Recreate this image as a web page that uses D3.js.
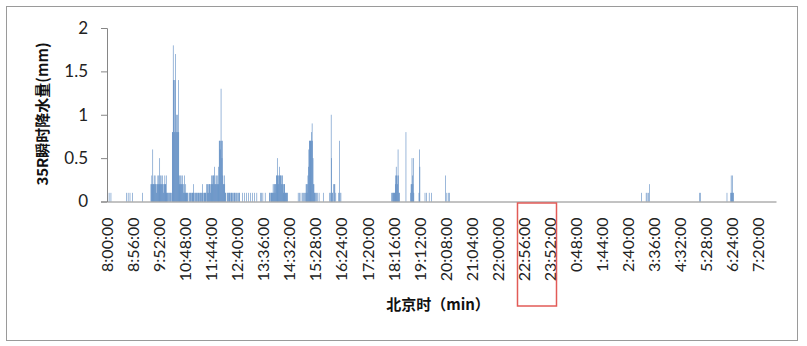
<!DOCTYPE html>
<html><head><meta charset="utf-8">
<script src="https://cdn.jsdelivr.net/npm/d3@7"></script>
<style>html,body{margin:0;padding:0;background:#fff;}svg{display:block;}</style>
</head><body>
<script>
// ---- data ----
const xTickLabels = ["8:00:00","8:56:00","9:52:00","10:48:00","11:44:00","12:40:00","13:36:00","14:32:00","15:28:00","16:24:00","17:20:00","18:16:00","19:12:00","20:08:00","21:04:00","22:00:00","22:56:00","23:52:00","0:48:00","1:44:00","2:40:00","3:36:00","4:32:00","5:28:00","6:24:00","7:20:00"];
const yTicks = [0, 0.5, 1, 1.5, 2];
const yTickLabels = ["0","0.5","1","1.5","2"];
// start time of each run of one-minute records
const segmentStarts = ["8:01","8:41","9:16","9:34","10:19","10:56","11:34","12:18","12:51","13:49","14:51","15:45","15:59","18:12","18:43","18:53","19:11","19:24","20:08","3:10","5:15","6:14"];
// rainfall (mm) per minute in each run
const segmentValues = [
  [0.1,0,0,0.1,0,0,0,0.1],
  [0.1,0,0,0,0.1,0,0,0,0.1,0,0,0,0,0.1],
  [0.1],
  [0.2,0.2,0.3,0.2,0.6,0.2,0.2,0.3,0.2,0.3, 0.2,0.2,0.1,0.2,0.2,0.3,0.2,0.3,0.2,0.5, 0.3,0.2,0.3,0.2,0.2,0.3,0.2,0.1,0.2,0.2, 0.3,0.2,0.2,0.3,0.1,0.1,0.1,0,0.1,0.1, 0.1,0,0.1,0.1],
  [0.1,0.8,0.8,1.8,1.4,1.4,0.8,1.4,1.7,0.8, 1.0,0.8,1.0,0.8,1.4,0.8,0.3,0.2,0.3,0.2, 0.3,0.2,0.2,0.3,0.2,0.1,0.2,0.3,0.1,0.1, 0.2,0.1,0.1,0.1,0.1],
  [0.1,0.1,0,0.1,0.1,0.1,0,0.1,0.1,0.1, 0.2,0.1,0,0.1,0.1,0,0.1,0.1,0.1,0, 0.1,0.1,0,0.1,0.1,0.1,0,0.1,0.1,0.2, 0.1,0,0.1,0.1,0.1,0.1,0.1],
  [0.2,0.1,0.2,0.2,0.1,0.2,0.2,0.2,0.1,0.2, 0.3,0.2,0.3,0.2,0.3,0.3,0.2,0.4,0.3,0.2, 0.2,0.3,0.2,0.2,0.3,0.2,0.4,0.7,0.7,0.6, 0.7,1.3,0.7,0.5,0.7,0.3,0.2,0.2,0.3,0.2, 0.1,0.1],
  [0.1,0.1,0,0.1,0.1,0.1,0.1,0,0.1,0.1, 0.1,0,0.1,0.1,0,0.1,0.1,0.1,0,0.1, 0.1,0,0,0.1,0.1,0,0.1,0.1],
  [0.1,0,0,0,0.1,0,0,0,0,0.1, 0,0,0,0.1,0,0,0,0.1,0,0, 0,0,0.1,0,0,0,0.1,0,0,0, 0,0.1,0,0,0,0,0,0,0,0.1, 0,0.1,0,0,0.1,0,0,0,0,0.1],
  [0.1,0.1,0,0.1,0.1,0.1,0.1,0.1,0.2,0.1, 0.2,0.2,0.1,0.2,0.2,0.3,0.3,0.5,0.3,0.2, 0.3,0.3,0.4,0.3,0.3,0.3,0.2,0.3,0.3,0.2, 0.2,0.1,0.2,0.2,0.1,0.1,0.1,0.1,0.1,0.1],
  [0.1,0,0,0.1,0,0,0.1,0,0,0.1, 0,0.1,0,0,0.1,0,0.1,0.2,0.2,0.1, 0.2,0.3,0.4,0.6,0.7,0.7,0.7,0.7,0.7,0.8, 0.9,0.7,0.5,0.2,0.2,0.1,0.1,0.1,0,0.1, 0,0.1,0,0,0,0.1],
  [0.1],
  [0.1,0.1,0,1.0,0.5,0.1,0.1,0,0.2,0, 0.2,0.2,0,0.1,0,0,0,0,0,0.1, 0,0.7,0.1,0,0.1],
  [0.1,0,0.1,0.1,0.1,0.1,0.1,0.1,0.2,0.3, 0.4,0.3,0.3,0.2,0.6,0.3,0.1,0.1],
  [0.8],
  [0.1,0.2,0.2,0.5,0.3,0.2,0.5,0.1],
  [0.1,0.6,0.4],
  [0.1,0,0,0.1,0,0,0,0,0,0.1,0,0,0,0,0.1],
  [0.3,0,0,0.1,0,0,0.1,0,0,0.1],
  [0.1,0,0,0,0,0,0,0,0,0, 0.1,0,0.1,0,0,0.1,0,0.2],
  [0.1,0,0.1],
  [0.1,0,0,0,0,0,0,0,0.1,0.3,0.1,0.1,0.3,0.1,0.1]
];
const yTitle = "35R瞬时降水量(mm)";
const xTitle = "北京时（min）";

// ---- helpers ----
function minuteIndex(t){ const [h,m]=t.split(":").map(Number); let v=h*60+m-480; if(v<0) v+=1440; return v; }
const records = [];
segmentStarts.forEach((s,i)=>{ const base=minuteIndex(s); segmentValues[i].forEach((v,j)=>{ if(v>0) records.push({i:base+j, v}); }); });

const W=807,H=346;
const svg=d3.select("body").append("svg").attr("width",W).attr("height",H);
svg.append("rect").attr("x",6.5).attr("y",6.5).attr("width",791).attr("height",334).attr("fill","#fff").attr("stroke","#9a9a9a").attr("stroke-width",1);

const x=d3.scaleLinear().domain([0,1440]).range([107,776]);
const y=d3.scaleLinear().domain([0,2]).range([201.5,28]);

// bars
svg.append("g").selectAll("rect").data(records).join("rect")
  .attr("x",d=>x(d.i+0.5)-0.28).attr("width",0.56)
  .attr("y",d=>y(d.v)).attr("height",d=>y(0)-y(d.v))
  .attr("fill","#4F81BD");

// y axis
const yAxis=d3.axisLeft(y).tickValues(yTicks).tickSize(6).tickFormat((d,i)=>yTickLabels[i]).tickPadding(13);
const gy=svg.append("g").attr("transform","translate(107,0)").call(yAxis);
gy.select(".domain").attr("stroke","#868686");
gy.selectAll(".tick line").attr("stroke","#868686");
gy.selectAll(".tick text").attr("font-family","Lato, 'Open Sans', sans-serif").attr("font-size",17).attr("fill","#222");

// x axis
const xAxis=d3.axisBottom(x).tickValues(xTickLabels.map((_,k)=>k*56+0.5)).tickSize(0).tickFormat((d,k)=>xTickLabels[k]);
const gx=svg.append("g").attr("transform",`translate(0,${y(0)})`).call(xAxis);
gx.select(".domain").attr("stroke","#868686");
gx.selectAll(".tick text")
  .attr("font-family","Lato, 'Open Sans', sans-serif").attr("font-size",16).attr("fill","#222")
  .attr("text-anchor","end").attr("dy","0.35em").attr("y",0)
  .attr("transform","translate(0,16) rotate(-90)").attr("x",0);

// titles
svg.append("text").attr("transform","translate(43,114) rotate(-90)").attr("text-anchor","middle").attr("dy","0.35em")
  .attr("font-family","'Noto Sans CJK SC', sans-serif").attr("font-weight","bold").attr("font-size",15).attr("fill","#111").text(yTitle);
svg.append("text").attr("x",438).attr("y",305).attr("text-anchor","middle").attr("dy","0.35em")
  .attr("font-family","'Noto Sans CJK SC', sans-serif").attr("font-weight","bold").attr("font-size",15).attr("fill","#111").text(xTitle);

// red highlight box
svg.append("rect").attr("x",x(16*56+0.5)-6).attr("y",203).attr("width",39).attr("height",103)
  .attr("fill","none").attr("stroke","#e25b57").attr("stroke-width",1.5);
</script>
</body></html>
